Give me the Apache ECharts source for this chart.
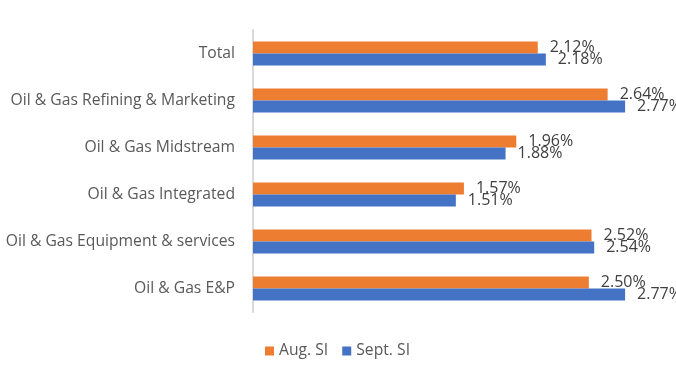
<!DOCTYPE html>
<html><head><meta charset="utf-8">
<script src="https://cdn.jsdelivr.net/npm/echarts@6/dist/echarts.min.js"></script>
<style>html,body{margin:0;padding:0;background:#fff}#c{width:676px;height:376px}</style>
</head><body><div id="c"></div>
<script>
var categories = ["Total","Oil & Gas Refining & Marketing","Oil & Gas Midstream","Oil & Gas Integrated","Oil & Gas Equipment & services","Oil & Gas E&P"];
var augSI = [2.12, 2.64, 1.96, 1.57, 2.52, 2.50];
var septSI = [2.18, 2.77, 1.88, 1.51, 2.54, 2.77];
var seriesNames = ["Aug. SI", "Sept. SI"];

var chart = echarts.init(document.getElementById('c'), null, {renderer:'canvas'});
var font = "'Open Sans', 'Noto Sans', sans-serif";
function lbl(){ return {show:true, position:'right', distance:12, color:'#404040', fontSize:16, fontFamily:font,
  formatter:function(p){return p.value.toFixed(2)+'%';}}; }
chart.setOption({
  animation:false,
  grid:{left:253, top:30, width:403, height:282, containLabel:false},
  legend:{data:seriesNames, top:343, left:265, padding:0, itemWidth:9, itemHeight:9, itemGap:14, itemTextGap:5, icon:'rect',
    textStyle:{color:'#595959', fontSize:15.7, fontFamily:font}},
  xAxis:{type:'value', min:0, max:3, show:false, splitLine:{show:false}},
  yAxis:{type:'category', data:categories, inverse:true,
    axisLine:{show:true, lineStyle:{color:'#d9d9d9', width:2}},
    axisTick:{show:false},
    axisLabel:{color:'#595959', fontSize:15.7, fontFamily:font, margin:18}},
  series:[
    {name:seriesNames[0], type:'bar', data:augSI, barWidth:12, barGap:'0%', itemStyle:{color:'#ED7D31'}, label:lbl()},
    {name:seriesNames[1], type:'bar', data:septSI, barWidth:12, barGap:'0%', itemStyle:{color:'#4472C4'}, label:lbl()}
  ]
});
</script></body></html>
